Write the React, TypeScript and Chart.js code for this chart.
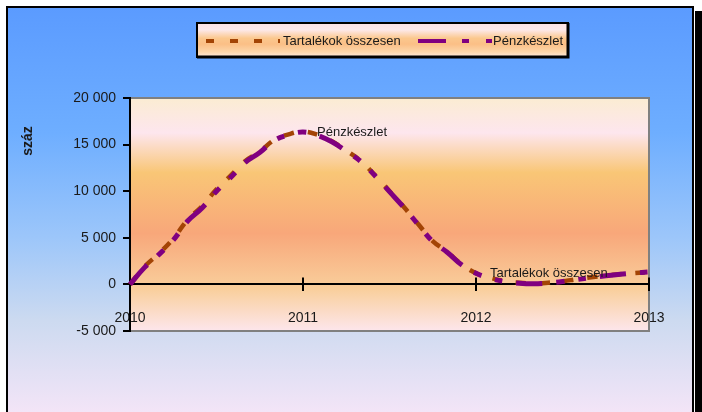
import React, { useEffect, useRef } from 'react';
import { Chart, registerables } from 'chart.js';

Chart.register(...registerables);

const categories = [
  '2010-01', '2010-02', '2010-03', '2010-04', '2010-05', '2010-06', '2010-07', '2010-08', '2010-09', '2010-10', '2010-11', '2010-12',
  '2011-01', '2011-02', '2011-03', '2011-04', '2011-05', '2011-06', '2011-07', '2011-08', '2011-09', '2011-10', '2011-11', '2011-12',
  '2012-01', '2012-02', '2012-03', '2012-04', '2012-05', '2012-06', '2012-07', '2012-08', '2012-09', '2012-10', '2012-11', '2012-12',
  '2013-01',
];

const tartalekok = [
  0, 1900, 3300, 4900, 6950, 8400, 10200, 11700, 13250, 14250, 15500, 16100,
  16400, 16050, 15350, 14350, 13250, 11700, 10000, 8300, 6450, 4650, 3500, 2150,
  1200, 700, 350, 170, 100, 180, 330, 560, 760, 950, 1100, 1230,
  1320,
];

const penzkeszlet = [
  0, 1800, 3200, 4750, 6800, 8200, 10000, 11500, 13100, 14150, 15450, 16050,
  16350, 16000, 15300, 14300, 13200, 11650, 9950, 8250, 6400, 4600, 3450, 2100,
  1200, 650, 300, 120, 60, 150, 300, 520, 720, 920, 1080, 1220,
  1330,
];

const seriesNames = ['Tartalékok összesen', 'Pénzkészlet'];
const yTicks = [-5000, 0, 5000, 10000, 15000, 20000];
const yTitle = 'száz';

const FONT = '"Liberation Sans", Arial, sans-serif';
const ORANGE = '#a34405';
const PURPLE = '#800080';
const TEXT = '#1a1a1a';

const fmt = (v: number) => {
  const s = Math.abs(v).toString().replace(/\B(?=(\d{3})+(?!\d))/g, ' ');
  return (v < 0 ? '-' : '') + s;
};

const isYear = (label: string) => label.endsWith('-01');

const decorPlugin = {
  id: 'decor',
  beforeDraw(chart: any) {
    const { ctx, chartArea: a } = chart;
    ctx.save();
    const g = ctx.createLinearGradient(0, a.top, 0, a.bottom);
    g.addColorStop(0, '#fbecd2');
    g.addColorStop(0.15, '#fde6ee');
    g.addColorStop(0.32, '#f9c676');
    g.addColorStop(0.58, '#f8a77a');
    g.addColorStop(0.82, '#f9cf9c');
    g.addColorStop(1, '#fde6ec');
    ctx.fillStyle = g;
    ctx.fillRect(a.left, a.top, a.right - a.left, a.bottom - a.top);
    ctx.strokeStyle = '#808080';
    ctx.lineWidth = 2;
    ctx.strokeRect(a.left, a.top, a.right - a.left, a.bottom - a.top);
    ctx.restore();
  },
  afterDraw(chart: any) {
    const { ctx } = chart;
    const xs = chart.scales.x;
    const ys = chart.scales.y;
    const y0 = ys.getPixelForValue(0);
    ctx.save();
    // upper halves of the x-axis tick marks
    ctx.strokeStyle = '#000';
    ctx.lineWidth = 2;
    categories.forEach((c, i) => {
      if (!isYear(c) || i === 0) return;
      const x = Math.round(xs.getPixelForValue(i));
      ctx.beginPath();
      ctx.moveTo(x, y0 - 7);
      ctx.lineTo(x, y0);
      ctx.stroke();
    });

    // data labels
    ctx.fillStyle = TEXT;
    ctx.font = `13px ${FONT}`;
    ctx.textAlign = 'left';
    ctx.textBaseline = 'middle';
    const p1 = chart.getDatasetMeta(1).data[12];
    ctx.fillText(seriesNames[1], p1.x + 14, p1.y);
    const p0 = chart.getDatasetMeta(0).data[24];
    ctx.fillText(seriesNames[0], p0.x + 14, p0.y);

    // y title
    ctx.save();
    ctx.translate(28, 141);
    ctx.rotate(-Math.PI / 2);
    ctx.font = `bold 14px ${FONT}`;
    ctx.textAlign = 'center';
    ctx.textBaseline = 'middle';
    ctx.fillStyle = TEXT;
    ctx.fillText(yTitle, 0, 0);
    ctx.restore();

    // legend
    const L = 197, T = 23, R = 568, B = 57;
    const lg = ctx.createLinearGradient(0, T, 0, B);
    lg.addColorStop(0, '#fce2e6');
    lg.addColorStop(0.2, '#fde9ea');
    lg.addColorStop(0.45, '#fbc88e');
    lg.addColorStop(0.62, '#fbbf86');
    lg.addColorStop(0.85, '#fcd6aa');
    lg.addColorStop(1, '#fde8dc');
    ctx.fillStyle = lg;
    ctx.fillRect(L, T, R - L, B - T);
    ctx.strokeStyle = '#000';
    ctx.lineWidth = 2;
    ctx.strokeRect(L, T, R - L, B - T);
    ctx.lineWidth = 3;
    ctx.beginPath();
    ctx.moveTo(R, T);
    ctx.lineTo(R, B);
    ctx.lineTo(L, B);
    ctx.stroke();

    const ly = 41;
    ctx.lineCap = 'butt';
    ctx.lineWidth = 4;
    ctx.strokeStyle = ORANGE;
    ctx.setLineDash([8, 16]);
    ctx.beginPath();
    ctx.moveTo(206, ly);
    ctx.lineTo(280, ly);
    ctx.stroke();
    ctx.strokeStyle = PURPLE;
    ctx.setLineDash([28, 16, 7, 17, 7, 16]);
    ctx.beginPath();
    ctx.moveTo(418, ly);
    ctx.lineTo(492, ly);
    ctx.stroke();
    ctx.setLineDash([]);
    ctx.fillStyle = TEXT;
    ctx.font = `13px ${FONT}`;
    ctx.textAlign = 'left';
    ctx.textBaseline = 'middle';
    ctx.fillText(seriesNames[0], 283, ly);
    ctx.fillText(seriesNames[1], 493, ly);
    ctx.restore();
  },
};

export default function App() {
  const ref = useRef<HTMLCanvasElement>(null);

  useEffect(() => {
    if (!ref.current) return;
    const chart = new Chart(ref.current, {
      type: 'line',
      data: {
        labels: categories,
        datasets: [
          {
            label: seriesNames[0],
            data: tartalekok,
            borderColor: ORANGE,
            borderWidth: 4.5,
            borderDash: [10, 14],
            borderCapStyle: 'butt',
            pointRadius: 0,
            tension: 0.4,
            fill: false,
            order: 1,
          },
          {
            label: seriesNames[1],
            data: penzkeszlet,
            borderColor: PURPLE,
            borderWidth: 5,
            borderDash: [26, 14, 8, 14, 8, 14],
            borderCapStyle: 'butt',
            pointRadius: 0,
            tension: 0.4,
            fill: false,
            order: 0,
          },
        ],
      },
      options: {
        responsive: false,
        animation: false,
        events: [],
        layout: { padding: { left: 0, right: 53, top: 98, bottom: 81 } },
        plugins: {
          legend: { display: false },
          tooltip: { enabled: false },
        },
        scales: {
          x: {
            type: 'category',
            position: { y: 0 } as any,
            offset: false,
            border: { display: true, color: '#000', width: 2 },
            grid: {
              drawOnChartArea: false,
              drawTicks: true,
              tickLength: 6,
              lineWidth: 2,
              color: (c: any) => (c.index !== undefined && isYear(categories[c.index]) ? '#000' : 'rgba(0,0,0,0)'),
            },
            ticks: {
              autoSkip: false,
              maxRotation: 0,
              padding: 19,
              color: TEXT,
              font: { family: FONT, size: 14 },
              callback: (_v: any, i: number) => (isYear(categories[i]) ? categories[i].slice(0, 4) : ''),
            },
          },
          y: {
            min: yTicks[0],
            max: yTicks[yTicks.length - 1],
            afterFit: (s: any) => {
              s.width = 130;
            },
            afterBuildTicks: (s: any) => {
              s.ticks = yTicks.map((v) => ({ value: v }));
            },
            border: { display: true, color: '#000', width: 2 },
            grid: {
              drawOnChartArea: false,
              drawTicks: true,
              tickLength: 7,
              lineWidth: 2,
              color: '#000',
            },
            ticks: {
              padding: 7,
              color: TEXT,
              font: { family: FONT, size: 14 },
              callback: (v: any) => fmt(Number(v)),
            },
          },
        },
      },
      plugins: [decorPlugin],
    } as any);
    return () => chart.destroy();
  }, []);

  return (
    <div style={{ position: 'fixed', left: 0, top: 0, width: 702, height: 412, overflow: 'hidden', background: '#fff' }}>
      <div
        style={{
          position: 'absolute',
          left: 6,
          top: 6,
          width: 688,
          height: 420,
          boxSizing: 'border-box',
          border: '2px solid #000',
          background: 'linear-gradient(to bottom, #5b9bff 0%, #6eaeff 30%, #9cc6fa 55%, #ccdaf0 75%, #f8e6f8 100%)',
        }}
      />
      <div style={{ position: 'absolute', left: 695, top: 11, width: 8, height: 420, background: '#000' }} />
      <canvas
        ref={ref}
        width={702}
        height={412}
        style={{ position: 'absolute', left: 0, top: 0, width: 702, height: 412 }}
      />
    </div>
  );
}
